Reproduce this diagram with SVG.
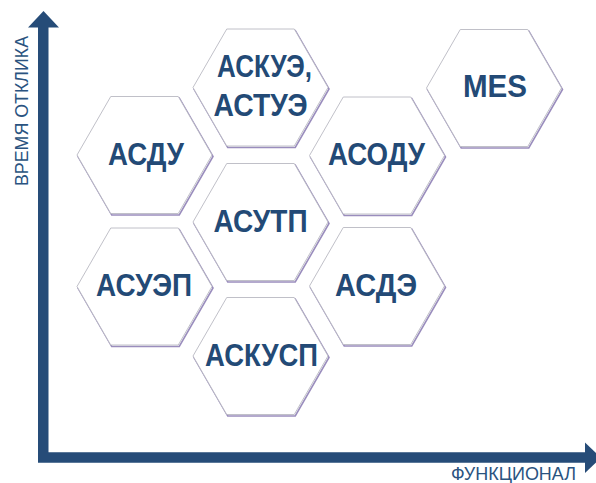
<svg xmlns="http://www.w3.org/2000/svg" xmlns:xlink="http://www.w3.org/1999/xlink" width="596" height="483" viewBox="0 0 596 483">
<style>
.sh{fill:none;stroke:#9a8dbd;stroke-width:1.6}
.hx{fill:#ffffff;stroke:#b9b9c2;stroke-width:0.9}
.lbl{font-family:"Liberation Sans",Arial,sans-serif;font-weight:bold;font-size:30.5px;fill:#234a76;text-anchor:middle}
.ax{font-family:"Liberation Sans",Arial,sans-serif;font-size:18px;fill:#2a5380;text-anchor:middle}
.axis{fill:none;stroke:#264c78;stroke-width:10.5;stroke-linejoin:miter}
.head{fill:#264c78}
</style>
<defs>
<polygon id="hex" points="-67.5,0 -33.75,-58.5 33.75,-58.5 67.5,0 33.75,58.5 -33.75,58.5"/>
</defs>
<rect width="596" height="483" fill="#ffffff"/>
<g id="connectors">
<path class="axis" d="M43.25,27 V457.5 H586"/>
<polygon class="head" points="28,27.5 59,27.5 43.5,11"/>
<polygon class="head" points="585,442.5 585,473 601,457.75"/>
</g>
<g id="n-asku" transform="translate(260.5,87.5)">
<use href="#hex" class="sh" x="1" y="1.5"/><use href="#hex" class="hx"/>
<text class="lbl" x="4" y="-10.5" textLength="95" lengthAdjust="spacingAndGlyphs">АСКУЭ,</text>
<text class="lbl" x="0" y="28.5" textLength="94" lengthAdjust="spacingAndGlyphs">АСТУЭ</text>
</g>
<g id="n-mes" transform="translate(494,88)">
<use href="#hex" class="sh" x="1" y="1.5"/><use href="#hex" class="hx"/>
<text class="lbl" x="1" y="8.5" textLength="64" lengthAdjust="spacingAndGlyphs">MES</text>
</g>
<g id="n-asdu" transform="translate(144.5,155)">
<use href="#hex" class="sh" x="1" y="1.5"/><use href="#hex" class="hx"/>
<text class="lbl" x="1.5" y="10" textLength="76" lengthAdjust="spacingAndGlyphs">АСДУ</text>
</g>
<g id="n-asodu" transform="translate(377,155.5)">
<use href="#hex" class="sh" x="1" y="1.5"/><use href="#hex" class="hx"/>
<text class="lbl" x="-0.5" y="9" textLength="97" lengthAdjust="spacingAndGlyphs">АСОДУ</text>
</g>
<g id="n-asutp" transform="translate(260.5,222)">
<use href="#hex" class="sh" x="1" y="1.5"/><use href="#hex" class="hx"/>
<text class="lbl" x="0" y="10" textLength="94" lengthAdjust="spacingAndGlyphs">АСУТП</text>
</g>
<g id="n-asuep" transform="translate(144.5,286.5)">
<use href="#hex" class="sh" x="1" y="1.5"/><use href="#hex" class="hx"/>
<text class="lbl" x="-0.5" y="9" textLength="96" lengthAdjust="spacingAndGlyphs">АСУЭП</text>
</g>
<g id="n-asde" transform="translate(377,286)">
<use href="#hex" class="sh" x="1" y="1.5"/><use href="#hex" class="hx"/>
<text class="lbl" x="-1" y="10" textLength="82" lengthAdjust="spacingAndGlyphs">АСДЭ</text>
</g>
<g id="n-askusp" transform="translate(260.5,356)">
<use href="#hex" class="sh" x="1" y="1.5"/><use href="#hex" class="hx"/>
<text class="lbl" x="1" y="9.5" textLength="113" lengthAdjust="spacingAndGlyphs">АСКУСП</text>
</g>
<text class="ax" transform="translate(28,111) rotate(-90)" textLength="150" lengthAdjust="spacingAndGlyphs">ВРЕМЯ ОТКЛИКА</text>
<text class="ax" x="513.5" y="480" textLength="125" lengthAdjust="spacingAndGlyphs">ФУНКЦИОНАЛ</text>
</svg>
